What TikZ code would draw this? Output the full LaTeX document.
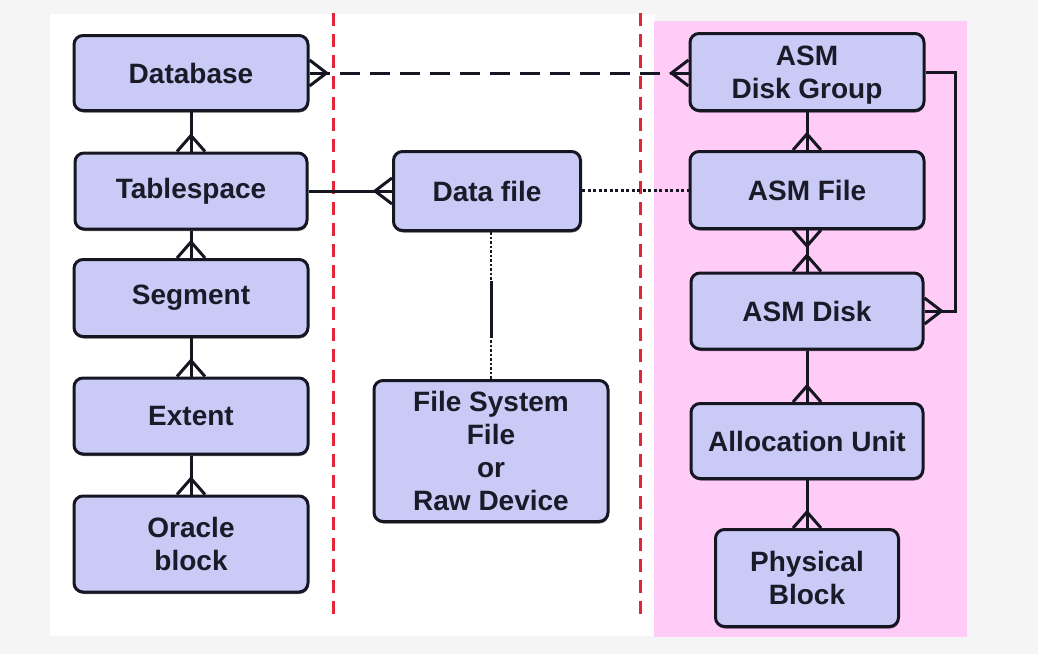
\documentclass[tikz,border=0pt]{standalone}
\usepackage{fontspec}
\setmainfont{Liberation Sans}
\usetikzlibrary{calc,shadows}
\definecolor{bgout}{RGB}{245,245,245}
\definecolor{pinkbg}{RGB}{255,204,248}
\definecolor{boxfill}{RGB}{202,202,247}
\definecolor{boxline}{RGB}{22,22,34}
\definecolor{txt}{RGB}{26,26,40}
\definecolor{redline}{RGB}{226,38,58}
\tikzset{
  ent/.style={draw=boxline, line width=3pt, fill=boxfill, rounded corners=9pt,
    align=center, inner sep=0pt, text=txt,
    font=\bfseries\fontsize{28}{33}\selectfont,
    drop shadow={shadow xshift=0.6pt, shadow yshift=-2pt, opacity=0.55, fill=black}},
  link/.style={line width=3pt, draw=boxline},
  sep/.style={line width=3pt, draw=redline, dash pattern=on 13pt off 8pt},
  pics/crowN/.style={code={\draw[link] (-14,0) -- (0,-16) -- (14,0);}},
  pics/crowS/.style={code={\draw[link] (-14,0) -- (0,16) -- (14,0);}},
  pics/crowE/.style={code={\draw[link] (0,-13) -- (17,0) -- (0,13);}},
  pics/crowW/.style={code={\draw[link] (0,-13) -- (-17,0) -- (0,13);}},
}
\begin{document}
\begin{tikzpicture}[x=1pt,y=-1pt]
% backgrounds
\fill[bgout] (0,0) rectangle (1038,654);
\useasboundingbox (0,0) rectangle (1038,654);
\fill[white] (50,14) rectangle (655,636);
\fill[pinkbg] (654,21) rectangle (967,637);
% separators
\draw[sep] (333,13) -- (333,620);
\draw[sep] (640,13) -- (640,620);
% left column
\node[ent, minimum width=234pt, minimum height=75pt] (db) at (191,73) {Database};
\node[ent, minimum width=232pt, minimum height=76pt] (ts) at (191,191) {Tablespace};
\node[ent, minimum width=234pt, minimum height=77pt] (sg) at (191,298) {Segment};
\node[ent, minimum width=234pt, minimum height=76pt] (ex) at (191,416) {Extent};
\node[ent, minimum width=234pt, minimum height=96pt] (ob) at (191,544) {Oracle\\block};
% middle
\node[ent, minimum width=187pt, minimum height=79pt] (df) at (487,191) {Data file};
\node[ent, minimum width=234pt, minimum height=141pt] (fs) at (491,451) {File System\\File\\or\\Raw Device};
% right column
\node[ent, minimum width=234pt, minimum height=77pt, text depth=-4pt] (dg) at (807,72) {ASM\\Disk Group};
\node[ent, minimum width=234pt, minimum height=77pt] (af) at (807,190) {ASM File};
\node[ent, minimum width=232pt, minimum height=76pt] (ad) at (807,311) {ASM Disk};
\node[ent, minimum width=232pt, minimum height=75pt] (au) at (807,441) {Allocation Unit};
\node[ent, minimum width=183pt, minimum height=97pt] (pb) at (807,578) {Physical\\Block};
% left chain
\draw[link] (db.south) -- (ts.north); \pic at (ts.north) {crowN};
\draw[link] (ts.south) -- (sg.north); \pic at (sg.north) {crowN};
\draw[link] (sg.south) -- (ex.north); \pic at (ex.north) {crowN};
\draw[link] (ex.south) -- (ob.north); \pic at (ob.north) {crowN};
% database - disk group
\draw[link, dash pattern=on 20pt off 10pt] (db.east) -- (db.east -| dg.west);
\pic at (db.east) {crowE};
\pic at (db.east -| dg.west) {crowW};
% tablespace - data file
\draw[link] (ts.east) -- (ts.east -| df.west); \pic at (ts.east -| df.west) {crowW};
% data file - asm file
\draw[link, dash pattern=on 3pt off 2.5pt] (df.east |- af.west) -- (af.west);
% data file - file system
\coordinate (dfb) at (fs.north |- df.south);
\draw[link, line width=2.2pt, dash pattern=on 2.5pt off 2pt] (dfb) -- (fs.north);
\draw[link] ($(dfb)!0.33!(fs.north)$) -- ($(dfb)!0.72!(fs.north)$);
% right chain
\draw[link] (dg.south) -- (af.north); \pic at (af.north) {crowN};
\draw[link] (af.south) -- (ad.north); \pic at (af.south) {crowS}; \pic at (ad.north) {crowN};
\draw[link] (ad.south) -- (au.north); \pic at (au.north) {crowN};
\draw[link] (au.south) -- (pb.north); \pic at (pb.north) {crowN};
\draw[link] (dg.east) -- ++(30,0) |- (ad.east); \pic at (ad.east) {crowE};
\end{tikzpicture}
\end{document}
